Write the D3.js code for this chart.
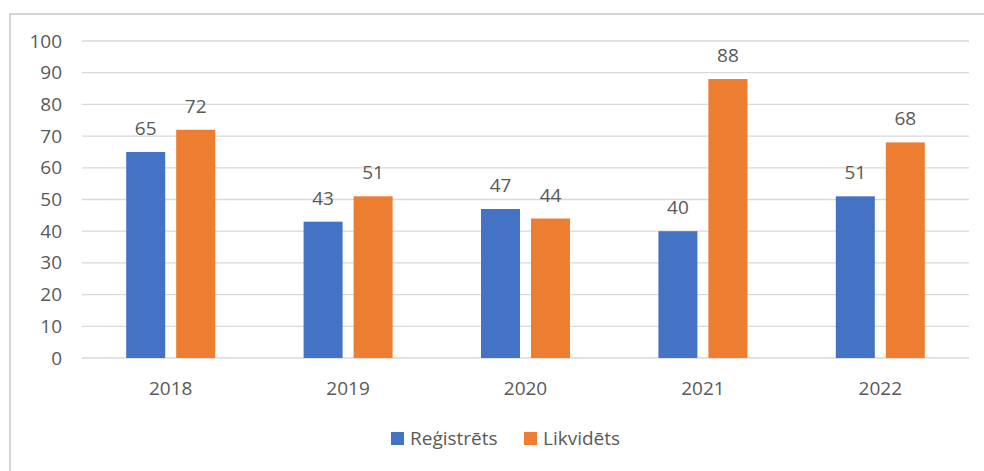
<!DOCTYPE html>
<html>
<head>
<meta charset="utf-8">
<script src="https://cdn.jsdelivr.net/npm/d3@7"></script>
<style>
  body { margin: 0; background: #fff; }
  text { font-family: "Open Sans", "Liberation Sans", sans-serif; fill: #595959; }
</style>
</head>
<body>
<div id="chart"></div>
<script>
var W = 984, H = 471;

// data
var years = ["2018", "2019", "2020", "2021", "2022"];
var registreti = [65, 43, 47, 40, 51];
var likvideti = [72, 51, 44, 88, 68];
var seriesNames = ["Reģistrēts", "Likvidēts"];
var seriesColors = ["#4472C4", "#ED7D31"];
var yTicks = [0, 10, 20, 30, 40, 50, 60, 70, 80, 90, 100];

var series = [registreti, likvideti];

const svg = d3.select("#chart")
    .append("svg")
    .attr("width", W)
    .attr("height", H);

// chart frame (only top and left edges visible)
svg.append("path")
    .attr("d", "M10,480 L10,14 L990,14")
    .attr("fill", "none")
    .attr("stroke", "#d4d4d4")
    .attr("stroke-width", 2);

// plot area edges (window.top is reserved, so own names)
const plotL = 82, plotR = 969, plotT = 41, plotB = 358;

var x = d3.scaleBand()
    .domain(years)
    .range([plotL, plotR])
    .paddingInner(0)
    .paddingOuter(0);

var y = d3.scaleLinear()
    .domain([0, 100])
    .range([plotB, plotT]);

// gridlines
svg.append("g")
    .selectAll("line")
    .data(yTicks)
    .join("line")
    .attr("x1", plotL)
    .attr("x2", plotR)
    .attr("y1", d => y(d))
    .attr("y2", d => y(d))
    .attr("stroke", "#d9d9d9")
    .attr("stroke-width", 1.3);

// y tick labels
svg.append("g")
    .selectAll("text")
    .data(yTicks)
    .join("text")
    .attr("x", 62)
    .attr("y", d => y(d) + 6.5)
    .attr("text-anchor", "end")
    .attr("font-size", 19)
    .text(d => d);

// bars: inner band inside each year
var barW = 39, gap = 11;
var sub = d3.scaleBand()
    .domain([0, 1])
    .range([0, barW * 2 + gap])
    .paddingInner(gap / (barW + gap));

var groupOffset = (x.bandwidth() - (barW * 2 + gap)) / 2;

series.forEach(function(vals, si){
    var g = svg.append("g");
    g.selectAll("rect")
        .data(vals)
        .join("rect")
        .attr("x", (d, i) => x(years[i]) + groupOffset + sub(si))
        .attr("y", d => y(d))
        .attr("width", sub.bandwidth())
        .attr("height", d => plotB - y(d))
        .attr("fill", seriesColors[si]);
    g.selectAll("text")
        .data(vals)
        .join("text")
        .attr("x", (d, i) => x(years[i]) + groupOffset + sub(si) + sub.bandwidth() / 2)
        .attr("y", d => y(d) - 17)
        .attr("text-anchor", "middle")
        .attr("font-size", 19)
        .text(d => d);
});

// x labels
svg.append("g")
    .selectAll("text")
    .data(years)
    .join("text")
    .attr("x", d => x(d) + x.bandwidth() / 2)
    .attr("y", 395)
    .attr("text-anchor", "middle")
    .attr("font-size", 19)
    .text(d => d);

// legend
var legendX = [391, 524];
var legend = svg.append("g");
seriesNames.forEach(function(name, i){
    legend.append("rect")
        .attr("x", legendX[i])
        .attr("y", 432)
        .attr("width", 13)
        .attr("height", 13)
        .attr("fill", seriesColors[i]);
    legend.append("text")
        .attr("x", legendX[i] + 19)
        .attr("y", 445)
        .attr("font-size", 19)
        .text(name);
});
</script>
</body>
</html>
